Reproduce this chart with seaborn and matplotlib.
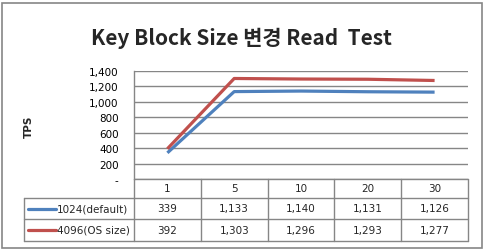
import matplotlib
matplotlib.use("Agg")
import matplotlib.pyplot as plt
from matplotlib.lines import Line2D
from matplotlib.patches import Rectangle
from matplotlib.transforms import blended_transform_factory
import seaborn as sns
import pandas as pd

# ---- data ----
categories = ["1", "5", "10", "20", "30"]
series_names = ["1024(default)", "4096(OS size)"]
tps_1024 = [339, 1133, 1140, 1131, 1126]
tps_4096 = [392, 1303, 1296, 1293, 1277]
colors = ["#4F81BD", "#C0504D"]
title = "Key Block Size 변경 Read  Test"
ylabel = "TPS"

rows = []
for name, vals in zip(series_names, [tps_1024, tps_4096]):
    for i, (c, v) in enumerate(zip(categories, vals)):
        rows.append({"pos": i, "cat": c, "series": name, "tps": v})
df = pd.DataFrame(rows)

sns.set_theme(style="white")
plt.rcParams["font.family"] = ["DejaVu Sans"]

W, H = 485, 253
fig = plt.figure(figsize=(W / 100, H / 100), dpi=100)

def fx(p):
    return p / W

def fy(p):
    return 1 - p / H

L, R, T, B = 134, 468, 72, 180
ax = fig.add_axes([fx(L), fy(B), fx(R) - fx(L), (B - T) / H])

sns.lineplot(data=df, x="pos", y="tps", hue="series", palette=colors,
             hue_order=series_names, linewidth=2.3, legend=False, ax=ax,
             sort=False, solid_capstyle="butt")

ax.set_xlim(-0.5, len(categories) - 0.5)
ax.set_ylim(0, 1400)
ax.set_yticks(range(0, 1401, 200))
ax.set_yticklabels(["-" if v == 0 else f"{v:,}" for v in range(0, 1401, 200)],
                   fontsize=7.5, color="black")
ax.set_xticks([])
ax.set_xlabel("")
ax.set_ylabel("")
ax.tick_params(axis="y", length=0, pad=11)
ax.yaxis.grid(True, color="#868686", linewidth=1.0)
ax.set_axisbelow(True)
for s in ["top", "right", "bottom"]:
    ax.spines[s].set_visible(False)
ax.spines["left"].set_color("#868686")
ax.spines["left"].set_linewidth(1.0)
ax.patch.set_alpha(0)

# title and y label
fig.text(fx(241), fy(38), title, ha="center", va="center", fontsize=15,
         fontweight="bold", family=["Noto Sans CJK KR", "DejaVu Sans"])
fig.text(fx(29), fy(127), ylabel, ha="center", va="center", rotation=90,
         fontsize=7.5, fontweight="bold")

# outer border
fig.add_artist(Rectangle((fx(2.5), fy(249)), fx(482) - fx(2.5), (249 - 4) / H,
                         transform=fig.transFigure, fill=False,
                         edgecolor="#868686", linewidth=1.2))

# data table below the axes
gc = "#868686"
tr = blended_transform_factory(ax.transData, fig.transFigure)
row_y = [180, 199, 220, 242]

def hline(x0, x1, y):
    fig.add_artist(Line2D([fx(x0), fx(x1)], [fy(y), fy(y)],
                          transform=fig.transFigure, color=gc, linewidth=1.0))

hline(L, R, 180)
for y in row_y[1:]:
    hline(24, R, y)
# left vertical line of axes extended through table
fig.add_artist(Line2D([fx(L), fx(L)], [fy(180), fy(242)],
                      transform=fig.transFigure, color=gc, linewidth=1.0))
fig.add_artist(Line2D([fx(24), fx(24)], [fy(199), fy(242)],
                      transform=fig.transFigure, color=gc, linewidth=1.0))
for i in range(len(categories)):
    fig.add_artist(Line2D([i + 0.5, i + 0.5], [fy(180), fy(242)],
                          transform=tr, color=gc, linewidth=1.0))

# header row
for i, c in enumerate(categories):
    fig.text(i, fy((180 + 199) / 2), c, transform=tr, ha="center",
             va="center", fontsize=7.5)

# series rows
for r, (name, vals, col) in enumerate(zip(series_names,
                                          [tps_1024, tps_4096], colors)):
    yc = (row_y[r + 1] + row_y[r + 2]) / 2
    fig.add_artist(Line2D([fx(28), fx(56)], [fy(yc), fy(yc)],
                          transform=fig.transFigure, color=col, linewidth=2.3))
    fig.text(fx(57), fy(yc), name, ha="left", va="center", fontsize=7.5)
    for i, v in enumerate(vals):
        fig.text(i, fy(yc), f"{v:,}", transform=tr, ha="center",
                 va="center", fontsize=7.5)

fig.savefig("out.png", dpi=100)
